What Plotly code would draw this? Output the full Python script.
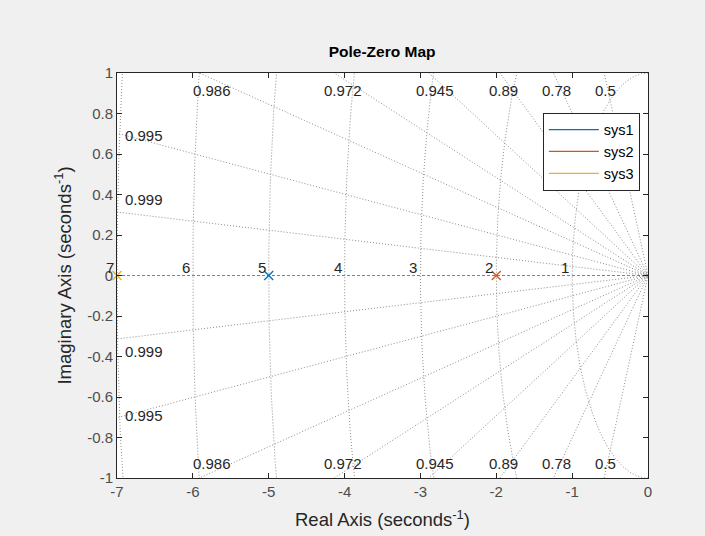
import numpy as np
import plotly.graph_objects as go

# ---- data ----
systems = ["sys1", "sys2", "sys3"]
pole_real = [-5, -2, -7]
pole_imag = [0, 0, 0]
colors = ["#0072BD", "#D95319", "#EDB120"]

zeta_values = [0.5, 0.78, 0.89, 0.945, 0.972, 0.986, 0.995, 0.999]
zeta_labels = ["0.5", "0.78", "0.89", "0.945", "0.972", "0.986", "0.995", "0.999"]
# left-edge label heights for the two shallowest damping rays
zeta_left_label_y = {0.995: 0.69, 0.999: 0.375}
wn_values = [1, 2, 3, 4, 5, 6, 7]
wn_labels = ["1", "2", "3", "4", "5", "6", "7"]

x_ticks = [-7, -6, -5, -4, -3, -2, -1, 0]
x_ticklabels = ["-7", "-6", "-5", "-4", "-3", "-2", "-1", "0"]
y_ticks = [1, 0.8, 0.6, 0.4, 0.2, 0, -0.2, -0.4, -0.6, -0.8, -1]
y_ticklabels = ["1", "0.8", "0.6", "0.4", "0.2", "0", "-0.2", "-0.4", "-0.6", "-0.8", "-1"]

XMIN, XMAX, YMIN, YMAX = -7, 0, -1, 1
GRID = "#8c8c8c"
TXT = "#262626"
FONT = "Liberation Sans, Arial, sans-serif"

fig = go.Figure()

# damping rays
for z in zeta_values:
    s = np.sqrt(1 - z * z) / z
    L = 20
    fig.add_trace(go.Scatter(x=[-L, 0, -L], y=[L * s, 0, -L * s], mode="lines",
                             line=dict(color=GRID, width=1, dash="1px,2px"),
                             hoverinfo="skip", showlegend=False))
# natural frequency arcs
th = np.linspace(np.pi / 2, 3 * np.pi / 2, 400)
for w in wn_values:
    fig.add_trace(go.Scatter(x=w * np.cos(th), y=w * np.sin(th), mode="lines",
                             line=dict(color=GRID, width=1, dash="1px,2px"),
                             hoverinfo="skip", showlegend=False))
# real axis
fig.add_trace(go.Scatter(x=[XMIN, XMAX], y=[0, 0], mode="lines",
                         line=dict(color="#808080", width=1, dash="3px,2px"),
                         hoverinfo="skip", showlegend=False))

# poles
for name, xr, yi, c in zip(systems, pole_real, pole_imag, colors):
    fig.add_trace(go.Scatter(x=[xr], y=[yi], mode="markers",
                             marker=dict(symbol="x-thin", size=9, line=dict(color=c, width=1.3)),
                             showlegend=False, name=name, cliponaxis=False))
# legend entries
for name, c in zip(systems, colors):
    fig.add_trace(go.Scatter(x=[None], y=[None], mode="lines", name=name,
                             line=dict(color=c, width=1.3)))

ann = []
for z, lab in zip(zeta_values, zeta_labels):
    s = np.sqrt(1 - z * z) / z
    xt = -1 / s
    if xt > XMIN:
        xc = xt * 0.973
        for yy in (0.915, -0.93):
            ann.append(dict(x=xc, y=yy, text=lab, showarrow=False, xanchor="center",
                            yanchor="middle", font=dict(size=15, color=TXT, family=FONT)))
    else:
        yl = zeta_left_label_y[z]
        for sg in (1, -1):
            ann.append(dict(x=-6.92, y=sg * yl, text=lab, showarrow=False,
                            xanchor="left", yanchor="middle",
                            font=dict(size=15, color=TXT, family=FONT)))
for w, lab in zip(wn_values, wn_labels):
    ann.append(dict(x=-w, y=0, text=lab, showarrow=False, xanchor="right", yanchor="bottom",
                    xshift=-1, yshift=-2, font=dict(size=15, color=TXT, family=FONT)))

fig.update_layout(
    width=705, height=536,
    paper_bgcolor="#F0F0F0", plot_bgcolor="white",
    margin=dict(l=117, r=57, t=73, b=58, autoexpand=False),
    font=dict(family=FONT, color=TXT, size=15),
    title=dict(text="<b>Pole-Zero Map</b>", x=0.542, xanchor="center", y=0.903, yanchor="middle",
               font=dict(size=15.5, color="black", family=FONT)),
    annotations=ann,
    showlegend=True,
    legend=dict(x=0.802, y=0.902, xanchor="left", yanchor="top", bgcolor="white",
                bordercolor="#262626", borderwidth=1, font=dict(size=14.5, color="black"),
                itemwidth=50, tracegroupgap=0),
)
axis_common = dict(showgrid=False, zeroline=False, showline=True, linecolor="#262626", linewidth=1,
                   mirror="allticks", ticks="inside", ticklen=5, tickcolor="#262626", automargin=False,
                   tickfont=dict(size=15, color="#4d4d4d", family=FONT))
fig.update_xaxes(range=[XMIN, XMAX], tickvals=x_ticks, ticktext=x_ticklabels,
                 title=dict(text="Real Axis (seconds<sup>-1</sup>)", font=dict(size=18.5, color=TXT), standoff=14),
                 **axis_common)
fig.update_yaxes(range=[YMIN, YMAX], tickvals=y_ticks, ticktext=y_ticklabels,
                 title=dict(text="Imaginary Axis (seconds<sup>-1</sup>)", font=dict(size=18.5, color=TXT), standoff=10),
                 **axis_common)

fig.write_html("out.html", config={"displayModeBar": False},
               post_script="document.body.style.margin='0';")
